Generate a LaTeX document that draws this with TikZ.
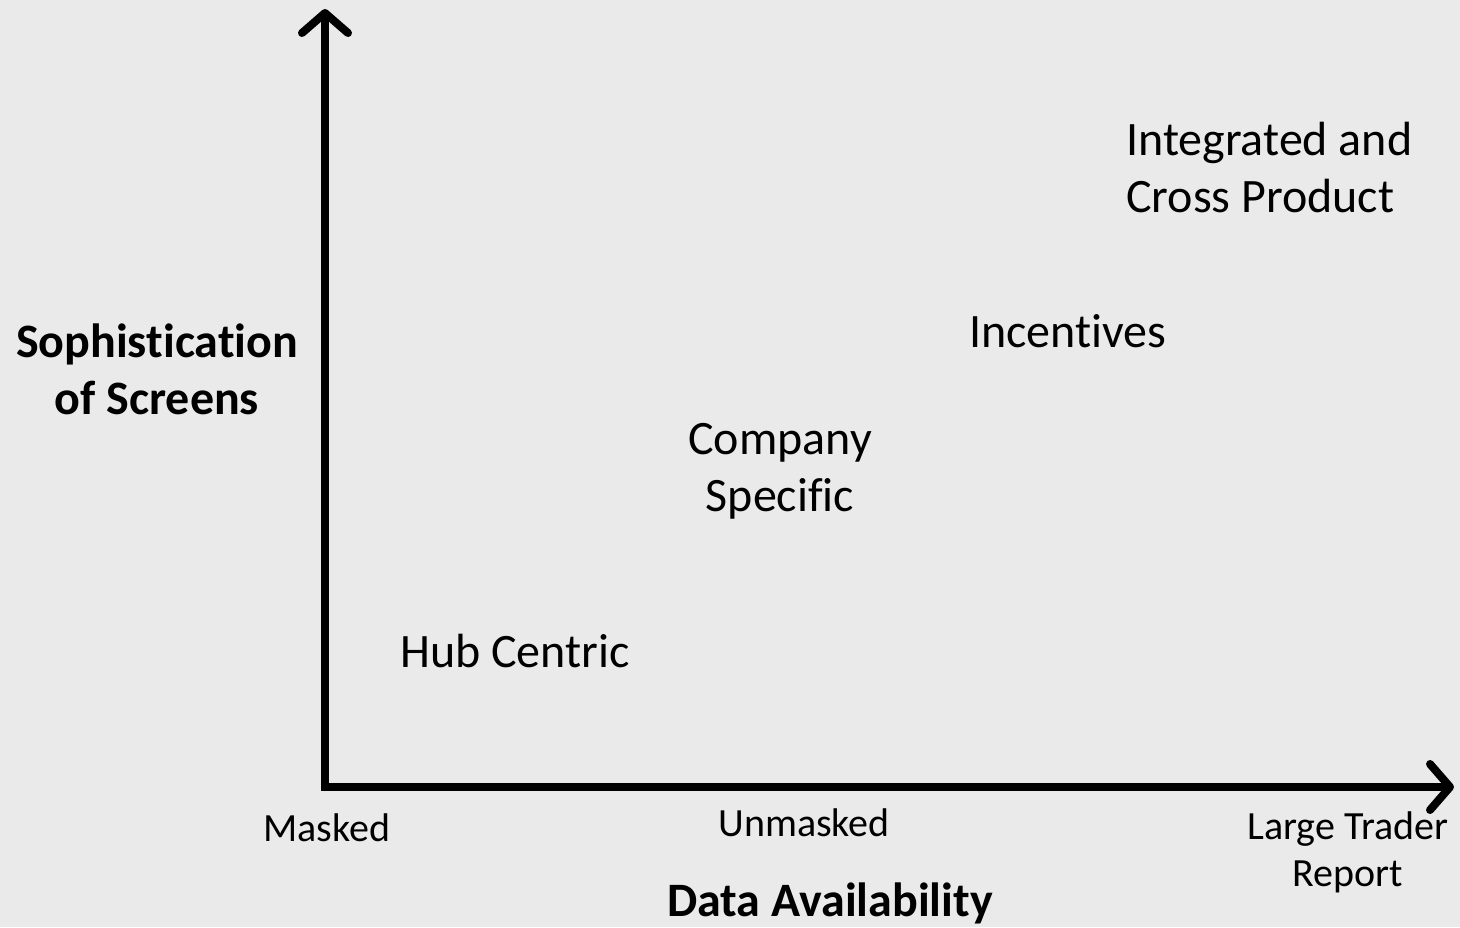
\documentclass[tikz,border=0pt]{standalone}
\usepackage{fontspec}
\setmainfont[Ligatures={NoCommon}]{Carlito}
\usetikzlibrary{arrows.meta}
\definecolor{bg}{RGB}{234,234,234}
\tikzset{
  axis/.style={line width=8pt, line cap=round, line join=miter, -{Straight Barb[length=20pt,width=46pt,line cap=round,line join=round]}},
  big/.style={font=\fontsize{48}{57}\selectfont, align=center, inner sep=0pt},
  bigl/.style={font=\fontsize{48}{57}\selectfont, align=left, inner sep=0pt},
  bigb/.style={font=\fontsize{48}{57}\selectfont\bfseries, align=center, inner sep=0pt},
  small/.style={font=\fontsize{40}{47}\selectfont, align=center, inner sep=0pt},
}
\begin{document}
\begin{tikzpicture}[x=1pt,y=-1pt]
\fill[bg] (0,0) rectangle (1460,927);
\useasboundingbox (0,0) rectangle (1460,927);
\coordinate (origin) at (325,787);
\coordinate (ytip) at (325,9);
\coordinate (xtip) at (1454,787);
\draw[axis] (origin) -- (ytip);
\draw[axis] (origin) -- (xtip);
\draw[line width=8pt] (321,787) -- (329,787);
\node[bigl, anchor=west] (integrated) at (1126,168) {Integrated and\\Cross Product};
\node[big] (incentives) at (1068,331) {Incentives};
\node[big] (company) at (780,471) {Company\\Specific};
\node[big] (hub) at (515,651) {Hub Centric};
\node[bigb] (soph) at (157,369) {Sophistication\\of Screens};
\node[small] (masked) at (327,828) {Masked};
\node[small] (unmasked) at (804,823) {Unmasked};
\node[small] (large) at (1348,852) {Large Trader\\Report};
\node[bigb] (data) at (830,903) {Data Availability};
\end{tikzpicture}
\end{document}
